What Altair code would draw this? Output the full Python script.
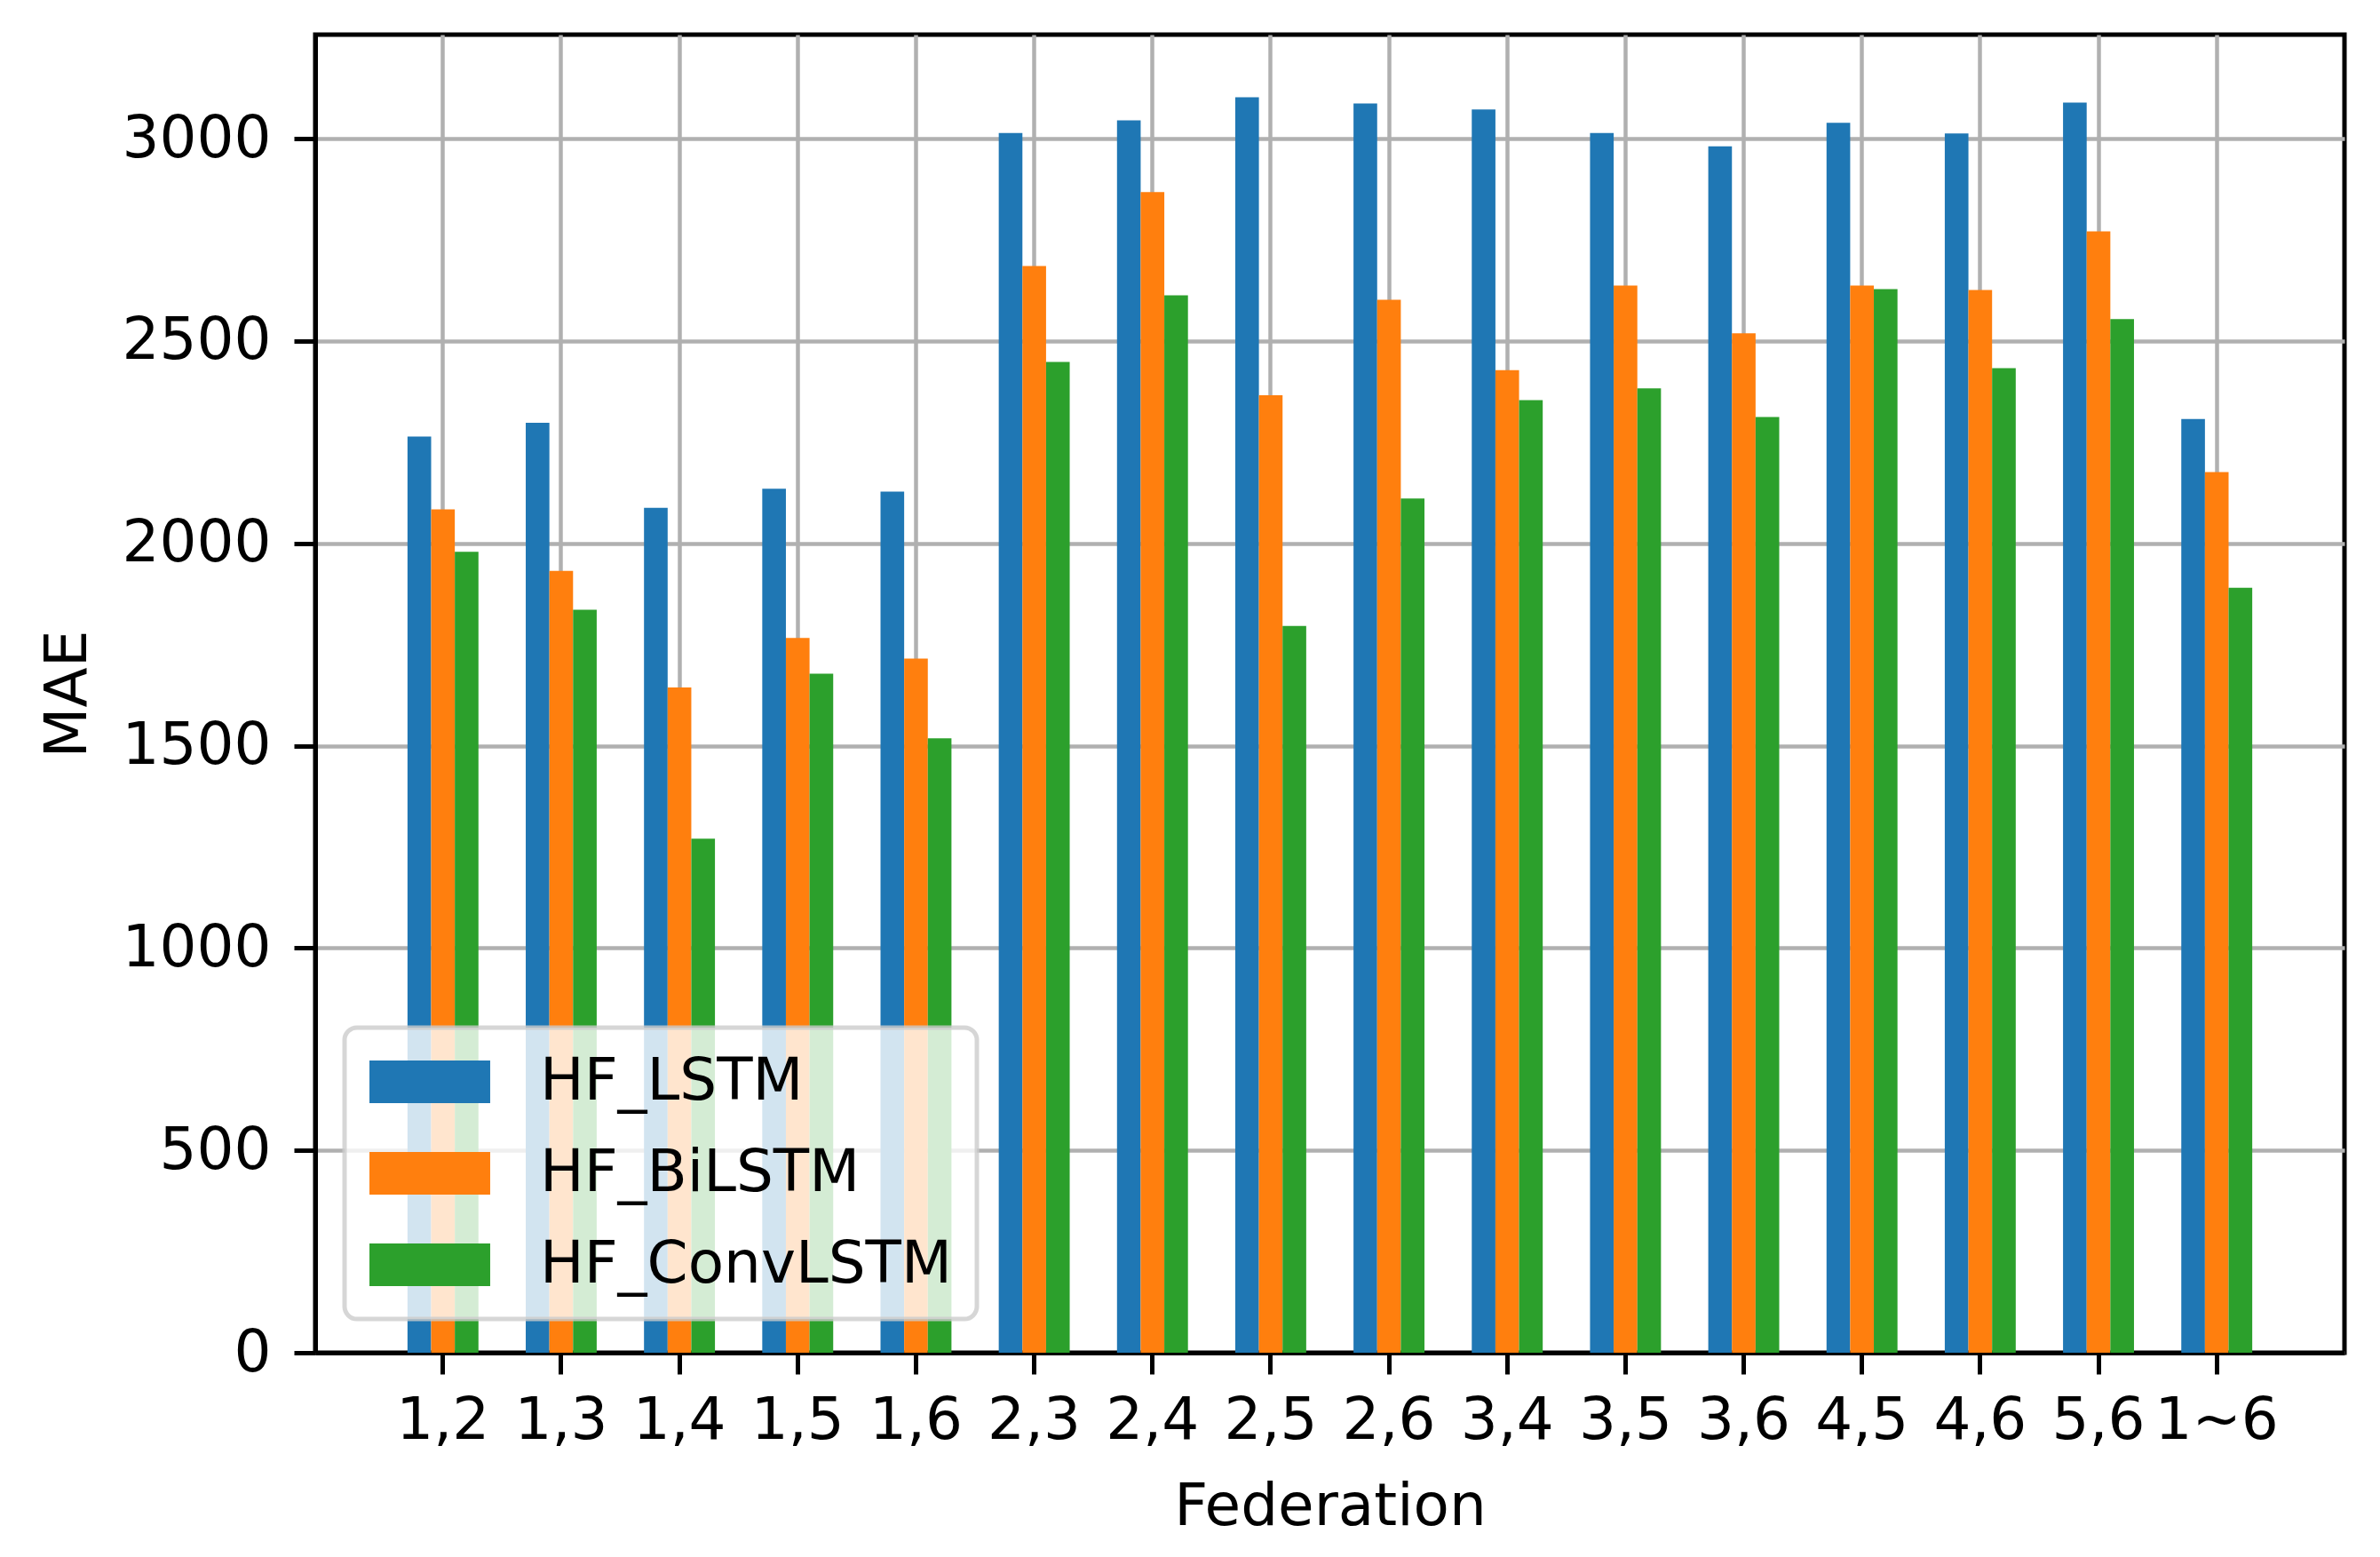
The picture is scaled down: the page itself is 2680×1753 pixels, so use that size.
import altair as alt
import pandas as pd

federations = ["1,2", "1,3", "1,4", "1,5", "1,6", "2,3", "2,4", "2,5", "2,6",
               "3,4", "3,5", "3,6", "4,5", "4,6", "5,6", "1~6"]
models = ["HF_LSTM", "HF_BiLSTM", "HF_ConvLSTM"]
hf_lstm = [2264, 2298, 2088, 2135, 2128, 3014, 3045, 3102, 3087, 3072, 3014, 2981, 3039, 3013, 3089, 2307]
hf_bilstm = [2084, 1932, 1644, 1766, 1715, 2685, 2868, 2366, 2602, 2428, 2637, 2519, 2637, 2626, 2771, 2176]
hf_convlstm = [1979, 1836, 1270, 1678, 1518, 2448, 2613, 1796, 2111, 2354, 2383, 2312, 2628, 2433, 2554, 1890]
colors = ["#1f77b4", "#ff7f0e", "#2ca02c"]
y_ticks = [0, 500, 1000, 1500, 2000, 2500, 3000]

rows = []
for m, vals in zip(models, [hf_lstm, hf_bilstm, hf_convlstm]):
    for f, v in zip(federations, vals):
        rows.append({"Federation": f, "Model": m, "MAE": v})
df = pd.DataFrame(rows)

FONT = "DejaVu Sans"
FS = 66

chart = alt.Chart(df).mark_bar().encode(
    x=alt.X("Federation:N", sort=federations,
            scale=alt.Scale(paddingInner=0.4, paddingOuter=0.78),
            axis=alt.Axis(title="Federation", labelAngle=0, bandPosition=0.5,
                          grid=True, labelOverlap=False, labelPadding=20,
                          titlePadding=32)),
    xOffset=alt.XOffset("Model:N", sort=models,
                        scale=alt.Scale(paddingInner=0, paddingOuter=0)),
    y=alt.Y("MAE:Q", scale=alt.Scale(domain=[0, 3257], nice=False, zero=True),
            axis=alt.Axis(title="MAE", values=y_ticks, format="d", labelPadding=26,
                          titlePadding=45, grid=True)),
    color=alt.Color("Model:N", sort=models,
                    scale=alt.Scale(domain=models, range=colors),
                    legend=alt.Legend(
                        title=None, orient="none", legendX=33, legendY=1118,
                        symbolType="M-2.06,-0.727L2.06,-0.727L2.06,0.727L-2.06,0.727Z",
                        symbolSize=66 * 66, symbolOffset=35, symbolStrokeWidth=0,
                        labelOffset=91, labelFontSize=FS, labelFont=FONT,
                        labelColor="black", labelLimit=0, rowPadding=37, padding=28,
                        fillColor="rgba(255,255,255,0.8)",
                        strokeColor="rgba(204,204,204,0.8)",
                        cornerRadius=14, zindex=2)),
).properties(
    width=2285, height=1484,
    autosize=alt.AutoSizeParams(type="none"),
    padding={"left": 347, "top": 31, "right": 32, "bottom": 222},
).configure_view(
    stroke="black", strokeWidth=5
).configure_axis(
    labelFont=FONT, labelFontSize=FS, labelColor="black", labelLimit=0,
    titleFont=FONT, titleFontSize=FS, titleFontWeight="normal", titleColor="black",
    tickSize=24, tickWidth=5, tickColor="black",
    domainColor="black", domainWidth=5,
    gridColor="#b0b0b0", gridWidth=4.5, zindex=1,
).configure_legend(
    strokeWidth=5
)

chart.save("out.html", embed_options={"renderer": "svg", "actions": False})
